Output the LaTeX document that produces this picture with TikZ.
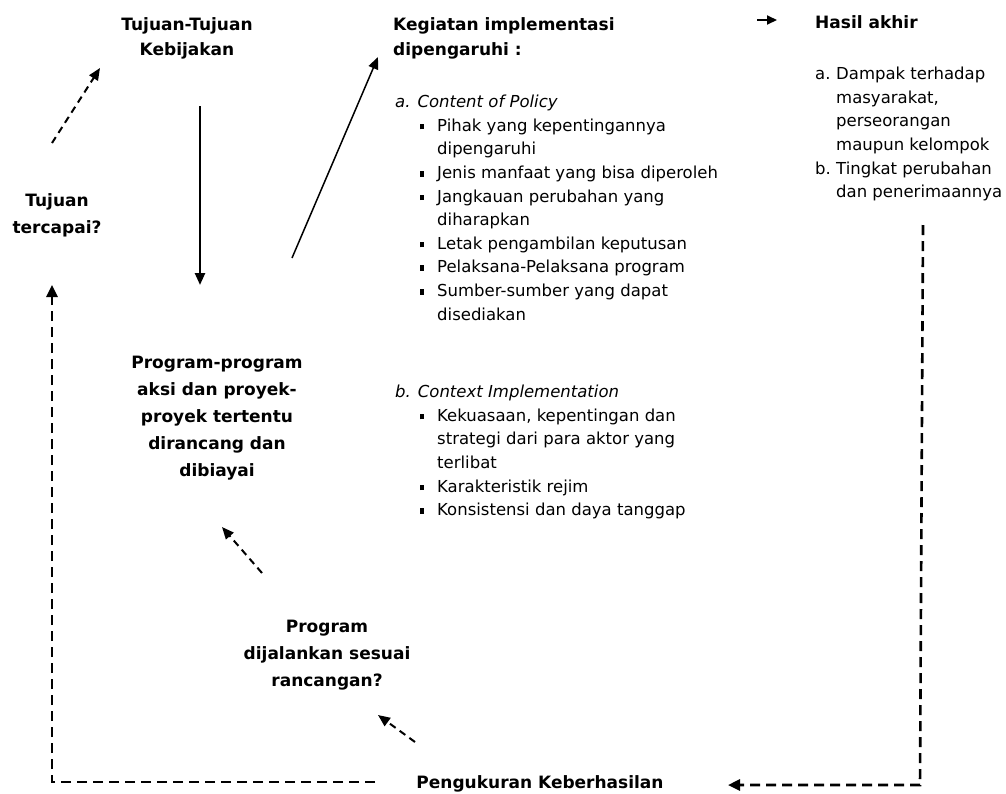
\documentclass[tikz,border=0pt]{standalone}
\usepackage{fontspec}
\setmainfont{DejaVu Sans}
\usetikzlibrary{arrows.meta}

\newcommand{\itm}{\hspace*{42pt}\llap{\rule[2pt]{4.5pt}{5.5pt}\hspace{13pt}}}
\newcommand{\cnt}{\hspace*{42pt}}

\begin{document}
\begin{tikzpicture}[x=1pt,y=-1pt,
        title/.style={font=\bfseries\fontsize{17}{27}\selectfont, align=center, inner sep=0pt},
        body/.style={font=\fontsize{16.5}{23.6}\selectfont, align=left, inner sep=0pt, anchor=north west},
        flow/.style={-{Triangle[length=12pt,width=10pt]}, line width=1.5pt},
        loop/.style={-{Triangle[length=12pt,width=11pt]}, line width=2.6pt, dash pattern=on 10pt off 6pt},
        hint/.style={-{Triangle[length=12pt,width=10pt]}, line width=2pt, dash pattern=on 7pt off 5pt}]
        \useasboundingbox (0,0) rectangle (1006,793);

        \node[title, font=\bfseries\fontsize{17}{25}\selectfont] (tujuan) at (187,38) {Tujuan-Tujuan\\Kebijakan};
        \node[title] (tercapai) at (57,215)  {Tujuan\\tercapai?};
        \node[title] (program)  at (217,418) {Program-program\\aksi dan proyek-\\proyek tertentu\\dirancang dan\\dibiayai};
        \node[title] (sesuai)   at (327,655) {Program\\dijalankan sesuai\\rancangan?};
        \node[title] (ukur)     at (540,784) {Pengukuran Keberhasilan};
        \node[title, anchor=north west, align=left, font=\bfseries\fontsize{17}{25}\selectfont] (kegiatan) at (393,17) {Kegiatan implementasi\\dipengaruhi :};
        \node[title, anchor=north west, align=left] (hasil) at (815,15) {Hasil akhir};

        \node[body] (content) at (395,95) {\textit{a. Content of Policy}\\
            \itm Pihak yang kepentingannya\\ \cnt dipengaruhi\\
            \itm Jenis manfaat yang bisa diperoleh\\
            \itm Jangkauan perubahan yang\\ \cnt diharapkan\\
            \itm Letak pengambilan keputusan\\
            \itm Pelaksana-Pelaksana program\\
            \itm Sumber-sumber yang dapat\\ \cnt disediakan};
        \node[body] (context) at (395,385) {\textit{b. Context Implementation}\\
            \itm Kekuasaan, kepentingan dan\\ \cnt strategi dari para aktor yang\\ \cnt terlibat\\
            \itm Karakteristik rejim\\
            \itm Konsistensi dan daya tanggap};
        \node[body] (dampak) at (815,67) {\makebox[21pt][l]{a.}Dampak terhadap\\
            \hspace*{21pt}masyarakat,\\ \hspace*{21pt}perseorangan\\ \hspace*{21pt}maupun kelompok\\
            \makebox[21pt][l]{b.}Tingkat perubahan\\ \hspace*{21pt}dan penerimaannya};

        \coordinate (a1) at (52,143);  \coordinate (a2) at (100,68);
        \coordinate (b1) at (200,106); \coordinate (b2) at (200,285);
        \coordinate (c1) at (292,258); \coordinate (c2) at (378,57);
        \coordinate (d1) at (757,20);  \coordinate (d2) at (777,20);
        \coordinate (e1) at (923,225); \coordinate (e2) at (920,785); \coordinate (e3) at (728,785);
        \coordinate (f1) at (375,782); \coordinate (f2) at (52,782);  \coordinate (f3) at (52,285);
        \coordinate (g1) at (415,742); \coordinate (g2) at (378,715);
        \coordinate (h1) at (262,573); \coordinate (h2) at (222,527);

        \draw[hint] (a1) -- (a2);
        \draw[flow, line width=2.4pt] (b1) -- (b2);
        \draw[flow] (c1) -- (c2);
        \draw[flow, -{Triangle[length=10pt,width=9pt]}, line width=2pt] (d1) -- (d2);
        \draw[loop] (e1) -- (e2) -- (e3);
        \draw[loop] (f1) -- (f2) -- (f3);
        \draw[hint] (g1) -- (g2);
        \draw[hint] (h1) -- (h2);
    \end{tikzpicture}
\end{document}
